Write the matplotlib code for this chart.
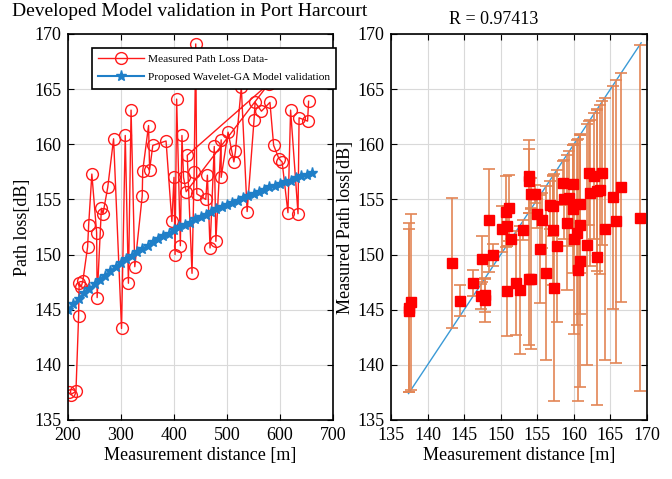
import matplotlib
matplotlib.use("Agg")
import matplotlib.pyplot as plt
import numpy as np

plt.rcParams['font.family'] = ['Liberation Serif', 'DejaVu Serif']

# ---------------- Left panel data ----------------
meas_dist = [201, 205, 215, 220, 221, 225, 228, 237, 239, 245, 254, 255, 263, 266, 275,
             286, 301, 308, 314, 319, 326, 340, 341, 352, 354, 360, 385, 396, 400, 402,
             405, 412, 415, 418, 423, 579, 425, 434, 438, 441, 443, 460, 463, 468, 476,
             479, 489, 489, 502, 513, 516, 527, 538, 551, 553, 565, 581, 588, 598, 604,
             615, 620, 634, 636, 652, 654]
meas_loss = [137.5, 137.3, 137.6, 144.4, 147.4, 147.1, 147.6, 150.7, 152.7, 157.3, 152.0, 146.1, 154.2, 153.7, 156.1,
             160.5, 143.3, 160.8, 147.4, 163.1, 148.9, 155.3, 157.6, 161.7, 157.7, 159.9, 160.3, 153.0, 157.0, 150.0,
             164.1, 150.8, 160.8, 157.0, 155.7, 165.5, 159.0, 148.3, 157.5, 169.1, 155.5, 155.0, 157.2, 150.6, 159.8,
             151.2, 160.4, 157.0, 161.1, 158.4, 159.4, 165.2, 153.9, 162.2, 163.8, 163.0, 163.8, 159.9, 158.7, 158.4,
             153.8, 163.1, 153.7, 162.4, 162.1, 163.9]

model_dist = [200, 210, 220, 230, 240, 250, 260, 270, 280, 290, 300, 310, 320, 330, 340, 350,
              360, 370, 380, 390, 400, 410, 420, 430, 440, 450, 460, 470, 480, 490, 500, 510,
              520, 530, 540, 550, 560, 570, 580, 590, 600, 610, 620, 630, 640, 650, 660]
model_loss = [145.0, 145.5, 146.0, 146.5, 146.9, 147.3, 147.7, 148.1, 148.5, 148.9, 149.2, 149.6,
              149.9, 150.2, 150.5, 150.8, 151.1, 151.4, 151.7, 151.9, 152.2, 152.5, 152.7, 152.9,
              153.2, 153.4, 153.6, 153.9, 154.1, 154.3, 154.5, 154.7, 154.9, 155.1, 155.3, 155.5,
              155.7, 155.9, 156.1, 156.2, 156.4, 156.6, 156.7, 156.9, 157.1, 157.2, 157.4]

# ---------------- Right panel data ----------------
meas_pl = [137.5, 137.5, 137.7, 143.3, 144.4, 146.2, 147.3, 147.5, 147.8, 147.9, 148.4, 149.0,
           150.2, 150.7, 150.8, 150.8, 151.2, 151.4, 152.1, 152.6, 153.1, 153.8, 153.8, 153.8,
           154.1, 154.2, 154.7, 155.0, 155.4, 155.6, 156.2, 156.7, 157.1, 157.2, 157.3, 157.7,
           158.5, 158.6, 159.0, 159.4, 159.9, 159.9, 160.0, 160.4, 160.5, 160.8, 160.8, 160.9,
           161.8, 162.1, 162.2, 162.8, 163.1, 163.2, 163.6, 163.9, 164.2, 165.3, 165.8, 166.5, 169.0]
pred_pl = [144.9, 145.2, 145.7, 149.2, 145.8, 147.4, 146.2, 149.6, 146.3, 145.9, 153.1, 150.0,
           152.3, 153.9, 152.6, 146.7, 154.2, 151.4, 147.4, 146.8, 152.2, 157.1, 156.7, 147.8,
           155.5, 147.8, 155.5, 153.7, 150.5, 153.1, 148.3, 154.5, 154.4, 152.2, 147.0, 150.8,
           156.5, 155.0, 152.9, 155.1, 156.4, 154.1, 151.4, 152.0, 148.6, 152.7, 149.4, 154.6,
           150.9, 157.4, 155.6, 157.1, 155.8, 149.8, 155.9, 157.4, 152.3, 155.2, 153.0, 156.1, 153.3]
diag_x = [137.4, 169.2]

fig = plt.figure(figsize=(6.72, 4.79), dpi=100)
W, H = 672, 479

def add_ax(l, t, r, b):
    return fig.add_axes([l / W, 1 - b / H, (r - l) / W, (b - t) / H])

ax1 = add_ax(68, 34, 333, 420)
ax2 = add_ax(391, 34, 647, 420)

for ax in (ax1, ax2):
    ax.grid(True, color='#d9d9d9', linewidth=0.8)
    ax.set_axisbelow(True)
    ax.tick_params(direction='in', top=True, right=True, labelsize=13, length=4, pad=5)
    for s in ax.spines.values():
        s.set_linewidth(1.2)

# Left
ax1.plot(meas_dist, meas_loss, '-o', color='#ff1a1a', linewidth=1.0, markersize=8.5,
         markerfacecolor='none', markeredgewidth=1.0, label='Measured Path Loss Data-')
ax1.plot(model_dist, model_loss, '-*', color='#1f7fc8', linewidth=1.5, markersize=8,
         label='Proposed Wavelet-GA Model validation')
ax1.set_xlim(200, 700)
ax1.set_ylim(135, 170)
ax1.set_xticks(np.arange(200, 701, 100))
ax1.set_yticks(np.arange(135, 171, 5))
ax1.set_xlabel('Measurement distance [m]', fontsize=13, labelpad=2)
ax1.set_ylabel('Path loss[dB]', fontsize=13, labelpad=2)
leg = ax1.legend(loc='upper left', bbox_to_anchor=(0.09, 0.965), fontsize=8.2,
                 fancybox=False, framealpha=1, edgecolor='black', borderpad=0.55,
                 handlelength=4.0, labelspacing=0.75, borderaxespad=0, handletextpad=0.4)
leg.get_frame().set_linewidth(1.2)

# Right
mp = np.array(meas_pl)
pp = np.array(pred_pl)
ax2.plot(diag_x, diag_x, '-', color='#3b9ad6', linewidth=1.0, zorder=2)
ax2.errorbar(mp, pp, yerr=np.abs(pp - mp), fmt='none', ecolor='#e38555',
             elinewidth=1.2, capsize=4, capthick=1.2, zorder=3)
ax2.plot(mp, pp, 's', color='#ff0000', markersize=7, zorder=4)
ax2.set_xlim(135, 170)
ax2.set_ylim(135, 170)
ax2.set_xticks(np.arange(135, 171, 5))
ax2.set_yticks(np.arange(135, 171, 5))
ax2.set_xlabel('Measurement distance [m]', fontsize=13, labelpad=2)
ax2.set_ylabel('Measured Path loss[dB]', fontsize=13, labelpad=2)

fig.text(190 / W, 1 - 11 / H, 'Developed Model validation in Port Harcourt',
         ha='center', va='center', fontsize=14)
fig.text(494 / W, 1 - 20 / H, 'R = 0.97413', ha='center', va='center', fontsize=13)

fig.savefig('out.png', dpi=100)
